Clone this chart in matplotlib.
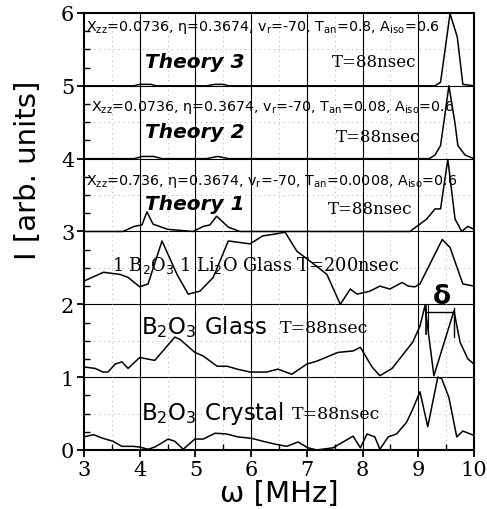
import numpy as np
import matplotlib
matplotlib.use("Agg")
import matplotlib.pyplot as plt
from matplotlib.ticker import MultipleLocator

# Curves (already stacked with their offsets)
theory3_x = [3.0, 3.9, 4.0, 4.2, 4.3, 5.2, 5.35, 5.5, 5.6, 9.3, 9.4, 9.57, 9.7, 9.8, 10.0]
theory3_y = [5.0, 5.0, 5.02, 5.02, 5.0, 5.0, 5.02, 5.02, 5.0, 5.0, 5.05, 5.99, 5.67, 5.02, 5.0]

theory2_x = [3.0, 3.9, 4.05, 4.25, 4.4, 5.2, 5.4, 5.6, 9.2, 9.3, 9.4, 9.55, 9.66, 9.71, 9.84, 10.0]
theory2_y = [4.0, 4.0, 4.03, 4.03, 4.0, 4.0, 4.03, 4.0, 4.0, 4.05, 4.18, 5.0, 4.48, 4.18, 4.05, 4.0]

theory1_x = [3.0, 3.7, 3.9, 4.04, 4.13, 4.24, 4.5, 4.96, 5.14, 5.26, 5.38, 5.59, 5.8,
             8.85, 9.15, 9.3, 9.4, 9.53, 9.66, 9.78, 9.89, 10.0]
theory1_y = [3.0, 3.0, 3.07, 3.09, 3.27, 3.1, 3.03, 3.0, 3.07, 3.09, 3.21, 3.06, 3.0,
             3.0, 3.17, 3.31, 3.31, 3.99, 3.17, 3.0, 3.07, 3.03]

liglass_x = [3.0, 3.35, 3.65, 3.79, 4.0, 4.15, 4.4, 4.67, 4.87, 5.08, 5.32, 5.59, 5.98, 6.21,
             6.39, 6.61, 6.82, 7.18, 7.36, 7.6, 7.78, 7.9, 8.13, 8.31, 8.49, 8.71, 8.82,
             8.94, 9.03, 9.43, 9.57, 9.8, 10.0]
liglass_y = [2.32, 2.44, 2.41, 2.37, 2.24, 2.28, 2.87, 2.41, 2.14, 2.18, 2.37, 2.87, 2.83, 2.94,
             2.96, 2.99, 2.73, 2.52, 2.41, 2.0, 2.21, 2.14, 2.18, 2.25, 2.21, 2.30, 2.25,
             2.24, 2.28, 2.89, 2.78, 2.28, 2.25]

glass_x = [3.0, 3.2, 3.34, 3.43, 3.56, 3.68, 3.79, 4.0, 4.27, 4.63, 4.72, 4.99, 5.14, 5.39,
           5.57, 5.75, 5.98, 6.28, 6.48, 6.73, 7.0, 7.18, 7.56, 7.83, 7.96, 8.17, 8.31,
           8.53, 8.9, 9.03, 9.12, 9.28, 9.64, 9.75, 9.89, 10.0]
glass_y = [1.14, 1.12, 1.07, 1.07, 1.18, 1.21, 1.12, 1.27, 1.23, 1.55, 1.52, 1.34, 1.29, 1.15,
           1.15, 1.11, 1.07, 1.07, 1.11, 1.04, 1.18, 1.22, 1.34, 1.36, 1.41, 1.14, 1.02,
           1.12, 1.48, 1.70, 1.98, 1.02, 1.91, 1.48, 1.25, 1.18]

crystal_x = [3.0, 3.17, 3.34, 3.52, 3.68, 3.88, 4.0, 4.15, 4.27, 4.51, 4.63, 4.78, 4.99, 5.14,
             5.35, 5.56, 5.76, 6.01, 6.21, 6.43, 6.64, 6.84, 7.02, 7.18, 7.47, 7.65, 7.83,
             7.96, 8.08, 8.22, 8.31, 8.46, 8.61, 8.79, 8.9, 9.03, 9.17, 9.35, 9.42, 9.55,
             9.69, 9.8, 10.0]
crystal_y = [0.18, 0.21, 0.16, 0.12, 0.05, 0.05, 0.04, 0.01, 0.04, 0.15, 0.12, 0.01, 0.15, 0.15,
             0.23, 0.22, 0.18, 0.16, 0.12, 0.08, 0.05, 0.11, 0.03, 0.0, 0.03, 0.11, 0.19,
             0.03, 0.22, 0.18, 0.01, 0.18, 0.22, 0.38, 0.56, 0.80, 0.32, 1.0, 0.98, 0.72,
             0.18, 0.26, 0.20]

# delta marker positions
delta_left = 9.13
delta_right = 9.64
delta_level = 1.90

fig = plt.figure(figsize=(4.87, 5.10), dpi=100)
ax = fig.add_axes([0.1725, 0.1157, 0.8008, 0.8569])

# grid: solid at integers, dotted at halves
for gx in range(4, 10):
    ax.axvline(gx, color="black", lw=0.8, zorder=1)
for gy in range(1, 6):
    ax.axhline(gy, color="black", lw=0.8, zorder=1)
for gx in np.arange(3.5, 10, 1.0):
    ax.axvline(gx, color="#aaaaaa", lw=0.7, ls=(0, (1, 4)), zorder=1)
for gy in np.arange(0.5, 6, 1.0):
    ax.axhline(gy, color="#aaaaaa", lw=0.7, ls=(0, (1, 4)), zorder=1)

for xs, ys in [(theory3_x, theory3_y), (theory2_x, theory2_y), (theory1_x, theory1_y),
               (liglass_x, liglass_y), (glass_x, glass_y), (crystal_x, crystal_y)]:
    ax.plot(xs, ys, color="black", lw=1.1, zorder=3)

# delta marker
ax.plot([delta_left, delta_left], [1.59, 1.99], color="black", lw=1.2)
ax.plot([delta_left + 0.04, delta_left + 0.04], [1.62, 1.99], color="black", lw=0.8)
ax.plot([delta_right, delta_right], [1.55, 1.95], color="black", lw=1.0)
ax.plot([delta_left, delta_right], [delta_level, delta_level], color="black", lw=1.0)
ax.text(9.43, 2.12, "δ", fontsize=19, fontweight="bold", ha="center", va="center",
        family="DejaVu Sans")

sans = "DejaVu Sans"
serif = "DejaVu Serif"
par_size = 10.3
sub = r"$_{\mathregular{%s}}$"
ax.text(3.03, 5.81, "X" + sub % "zz" + "=0.0736, η=0.3674, v" + sub % "r" + "=-70, T" + sub % "an"
        + "=0.8, A" + sub % "iso" + "=0.6", fontsize=par_size, family=sans, va="center")
ax.text(3.12, 4.71, "X" + sub % "zz" + "=0.0736, η=0.3674, v" + sub % "r" + "=-70, T" + sub % "an"
        + "=0.08, A" + sub % "iso" + "=0.6", fontsize=par_size, family=sans, va="center")
ax.text(3.03, 3.70, "X" + sub % "zz" + "=0.736, η=0.3674, v" + sub % "r" + "=-70, T" + sub % "an"
        + "=0.0008, A" + sub % "iso" + "=0.6", fontsize=par_size, family=sans, va="center")

for ty, lab in [(5.34, "Theory 3"), (4.37, "Theory 2"), (3.38, "Theory 1")]:
    ax.text(4.1, ty, lab, fontsize=14.5, fontweight="bold", fontstyle="italic",
            family=sans, va="center")
for tx, ty in [(7.45, 5.33), (7.52, 4.31), (7.37, 3.31)]:
    ax.text(tx, ty, "T=88nsec", fontsize=12, family=serif, va="center")

ax.text(3.5, 2.54, r"1 B$_2$O$_3$ 1 Li$_2$O Glass T=200nsec", fontsize=12.8, family=serif,
        va="center")
ax.text(4.03, 1.70, r"B$_{\mathregular{2}}$O$_{\mathregular{3}}$ Glass", fontsize=16.5, family=sans, va="center")
ax.text(6.52, 1.68, "T=88nsec", fontsize=12.5, family=serif, va="center")
ax.text(4.03, 0.52, r"B$_{\mathregular{2}}$O$_{\mathregular{3}}$ Crystal", fontsize=16.5, family=sans, va="center")
ax.text(6.74, 0.50, "T=88nsec", fontsize=12.5, family=serif, va="center")

ax.set_xlim(3, 10)
ax.set_ylim(0, 6)
ax.xaxis.set_major_locator(MultipleLocator(1))
ax.xaxis.set_minor_locator(MultipleLocator(0.5))
ax.yaxis.set_major_locator(MultipleLocator(1))
ax.yaxis.set_minor_locator(MultipleLocator(0.25))
ax.tick_params(which="major", direction="out", length=5, width=1.3, labelsize=15, pad=2)
ax.tick_params(which="minor", direction="in", length=4, width=1.0)
for lab in ax.get_xticklabels() + ax.get_yticklabels():
    lab.set_family(serif)
for sp in ax.spines.values():
    sp.set_linewidth(1.5)

ax.set_xlabel("ω [MHz]", fontsize=21, family="DejaVu Sans", labelpad=0)
ax.set_ylabel("I [arb. units]", fontsize=21, family="DejaVu Sans")
ax.yaxis.set_label_coords(-0.108, 0.643)

fig.savefig("out.png", dpi=100)
